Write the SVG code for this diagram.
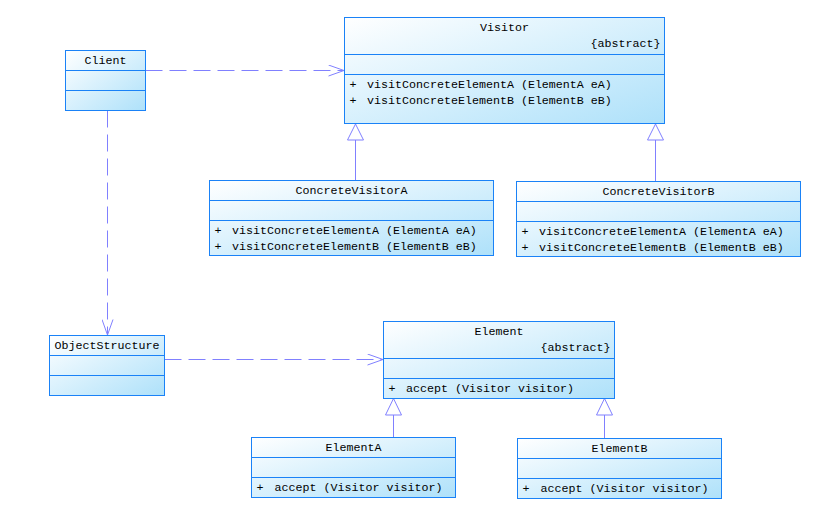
<svg xmlns="http://www.w3.org/2000/svg" width="815" height="512" viewBox="0 0 815 512">
<defs>
<linearGradient id="g" x1="0" y1="0" x2="1" y2="1">
<stop offset="0" stop-color="#FFFFFF"/>
<stop offset="1" stop-color="#AEE1FA"/>
</linearGradient>
<marker id="open" markerWidth="18" markerHeight="12" refX="16" refY="6" orient="auto" markerUnits="userSpaceOnUse">
<path d="M0.5,0.5 L16,6 L0.5,11.5" fill="none" stroke="#8080FF" stroke-width="1"/>
</marker>
</defs>
<style>
.box{fill:url(#g);stroke:#1A82F7;stroke-width:1}
.div{stroke:#1A82F7;stroke-width:1}
text{font-family:"Liberation Mono","DejaVu Sans Mono",monospace;font-size:11.67px;fill:#000}
.c{text-anchor:middle}
.e{text-anchor:end}
.dep{fill:none;stroke:#8080FF;stroke-width:1;stroke-dasharray:17,7}
.gen{fill:none;stroke:#8080FF;stroke-width:1}
.tri{fill:#FFFFFF;stroke:#8080FF;stroke-width:1}
</style>
<rect width="815" height="512" fill="#FFFFFF"/>

<g id="connectors">
<path class="dep" d="M145.5,70.5 H344" marker-end="url(#open)"/>
<path class="dep" d="M107.5,110.5 V335" marker-end="url(#open)"/>
<path class="dep" d="M164.5,359.5 H383" marker-end="url(#open)"/>
<path class="gen" d="M355.5,180.5 V140"/>
<path class="tri" d="M355.5,124 L363.5,140 L347.5,140 Z"/>
<path class="gen" d="M655.5,181.5 V140"/>
<path class="tri" d="M655.5,124 L663.5,140 L647.5,140 Z"/>
<path class="gen" d="M393.5,437.5 V415"/>
<path class="tri" d="M393.5,398.5 L401.5,415 L385.5,415 Z"/>
<path class="gen" d="M604.5,438.5 V415"/>
<path class="tri" d="M604.5,398.5 L612.5,415 L596.5,415 Z"/>
</g>

<g id="Visitor">
<rect class="box" x="344.5" y="17.5" width="320" height="106"/>
<line class="div" x1="344.5" y1="54.5" x2="664.5" y2="54.5"/>
<line class="div" x1="344.5" y1="74.5" x2="664.5" y2="74.5"/>
<text class="c" x="504.5" y="31">Visitor</text>
<text class="e" x="660.5" y="47">{abstract}</text>
<text x="349.5" y="87.5">+</text>
<text x="367" y="87.5">visitConcreteElementA (ElementA eA)</text>
<text x="349.5" y="103.5">+</text>
<text x="367" y="103.5">visitConcreteElementB (ElementB eB)</text>
</g>

<g id="Client">
<rect class="box" x="65.5" y="50.5" width="80" height="60"/>
<line class="div" x1="65.5" y1="70.5" x2="145.5" y2="70.5"/>
<line class="div" x1="65.5" y1="90.5" x2="145.5" y2="90.5"/>
<text class="c" x="105.5" y="64">Client</text>
</g>

<g id="ConcreteVisitorA">
<rect class="box" x="209.5" y="180.5" width="284" height="75"/>
<line class="div" x1="209.5" y1="200.5" x2="493.5" y2="200.5"/>
<line class="div" x1="209.5" y1="220.5" x2="493.5" y2="220.5"/>
<text class="c" x="351.5" y="194">ConcreteVisitorA</text>
<text x="214.5" y="233.5">+</text>
<text x="232" y="233.5">visitConcreteElementA (ElementA eA)</text>
<text x="214.5" y="249.5">+</text>
<text x="232" y="249.5">visitConcreteElementB (ElementB eB)</text>
</g>

<g id="ConcreteVisitorB">
<rect class="box" x="516.5" y="181.5" width="284" height="75"/>
<line class="div" x1="516.5" y1="201.5" x2="800.5" y2="201.5"/>
<line class="div" x1="516.5" y1="221.5" x2="800.5" y2="221.5"/>
<text class="c" x="658.5" y="195">ConcreteVisitorB</text>
<text x="521.5" y="234.5">+</text>
<text x="539" y="234.5">visitConcreteElementA (ElementA eA)</text>
<text x="521.5" y="250.5">+</text>
<text x="539" y="250.5">visitConcreteElementB (ElementB eB)</text>
</g>

<g id="ObjectStructure">
<rect class="box" x="49.5" y="335.5" width="115" height="60"/>
<line class="div" x1="49.5" y1="355.5" x2="164.5" y2="355.5"/>
<line class="div" x1="49.5" y1="375.5" x2="164.5" y2="375.5"/>
<text class="c" x="107" y="348.5">ObjectStructure</text>
</g>

<g id="Element">
<rect class="box" x="383.5" y="321.5" width="231" height="77"/>
<line class="div" x1="383.5" y1="358.5" x2="614.5" y2="358.5"/>
<line class="div" x1="383.5" y1="378.5" x2="614.5" y2="378.5"/>
<text class="c" x="499" y="335">Element</text>
<text class="e" x="610.5" y="351">{abstract}</text>
<text x="388.5" y="392">+</text>
<text x="406" y="392">accept (Visitor visitor)</text>
</g>

<g id="ElementA">
<rect class="box" x="251.5" y="437.5" width="204" height="60"/>
<line class="div" x1="251.5" y1="457.5" x2="455.5" y2="457.5"/>
<line class="div" x1="251.5" y1="477.5" x2="455.5" y2="477.5"/>
<text class="c" x="353.5" y="451">ElementA</text>
<text x="256.5" y="491">+</text>
<text x="274.5" y="491">accept (Visitor visitor)</text>
</g>

<g id="ElementB">
<rect class="box" x="517.5" y="438.5" width="204" height="60"/>
<line class="div" x1="517.5" y1="458.5" x2="721.5" y2="458.5"/>
<line class="div" x1="517.5" y1="478.5" x2="721.5" y2="478.5"/>
<text class="c" x="619.5" y="452">ElementB</text>
<text x="522.5" y="492">+</text>
<text x="540.5" y="492">accept (Visitor visitor)</text>
</g>
</svg>
